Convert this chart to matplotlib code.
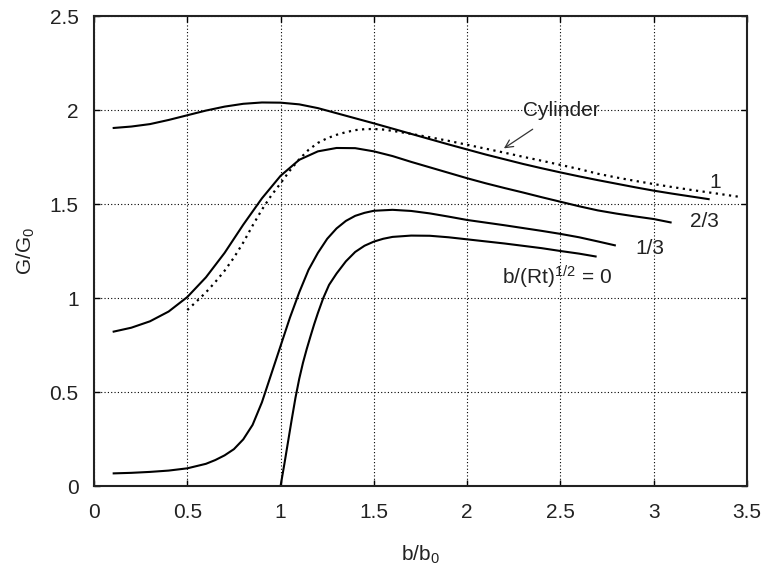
import matplotlib
matplotlib.use("Agg")
import matplotlib.pyplot as plt

plt.rcParams["font.family"] = ["Liberation Sans", "DejaVu Sans"]
plt.rcParams["mathtext.fontset"] = "custom"
plt.rcParams["mathtext.rm"] = "Liberation Sans"
plt.rcParams["mathtext.it"] = "Liberation Sans:italic"
plt.rcParams["mathtext.bf"] = "Liberation Sans:bold"

# G/G0 versus b/b0 for several values of b/(Rt)^(1/2)
x_1 = [0.1, 0.2, 0.3, 0.4, 0.5, 0.6, 0.7, 0.8, 0.9, 1.0, 1.1, 1.2, 1.3, 1.4,
       1.5, 1.6, 1.7, 1.8, 1.9, 2.0, 2.1, 2.2, 2.3, 2.4, 2.5, 2.6, 2.7, 2.8,
       2.9, 3.0, 3.1, 3.2, 3.3]
g_1 = [1.904, 1.912, 1.925, 1.947, 1.972, 1.997, 2.018, 2.033, 2.040, 2.039,
       2.030, 2.010, 1.983, 1.956, 1.929, 1.901, 1.873, 1.845, 1.817, 1.790,
       1.763, 1.738, 1.713, 1.690, 1.668, 1.647, 1.627, 1.608, 1.589, 1.571,
       1.555, 1.540, 1.525]

x_23 = [0.1, 0.2, 0.3, 0.4, 0.5, 0.6, 0.7, 0.8, 0.9, 1.0, 1.1, 1.2, 1.3, 1.4,
        1.5, 1.6, 1.7, 1.8, 1.9, 2.0, 2.1, 2.2, 2.3, 2.4, 2.5, 2.6, 2.7, 2.8,
        2.9, 3.0, 3.096]
g_23 = [0.820, 0.842, 0.876, 0.928, 1.005, 1.110, 1.240, 1.390, 1.530, 1.650,
        1.735, 1.780, 1.798, 1.797, 1.780, 1.755, 1.724, 1.695, 1.666, 1.637,
        1.610, 1.585, 1.561, 1.536, 1.512, 1.488, 1.466, 1.449, 1.434, 1.420,
        1.401]

x_13 = [0.1, 0.2, 0.3, 0.4, 0.5, 0.6, 0.65, 0.7, 0.75, 0.8, 0.85, 0.9, 0.95,
        1.0, 1.05, 1.1, 1.15, 1.2, 1.25, 1.3, 1.35, 1.4, 1.45, 1.5, 1.6, 1.7,
        1.8, 1.9, 2.0, 2.2, 2.4, 2.5, 2.6, 2.7, 2.797]
g_13 = [0.067, 0.070, 0.075, 0.082, 0.094, 0.118, 0.138, 0.163, 0.196, 0.248,
        0.325, 0.445, 0.595, 0.745, 0.895, 1.030, 1.150, 1.240, 1.315, 1.370,
        1.410, 1.437, 1.453, 1.464, 1.469, 1.463, 1.450, 1.433, 1.415, 1.387,
        1.357, 1.341, 1.323, 1.301, 1.279]

x_0 = [1.0, 1.02, 1.04, 1.06, 1.08, 1.1, 1.12, 1.14, 1.16, 1.18, 1.2, 1.229,
       1.26, 1.3, 1.35, 1.4, 1.45, 1.5, 1.55, 1.6, 1.7, 1.8, 1.9, 2.0, 2.2,
       2.4, 2.5, 2.6, 2.694]
g_0 = [0.0, 0.115, 0.235, 0.355, 0.470, 0.570, 0.655, 0.728, 0.795, 0.860,
       0.920, 1.000, 1.070, 1.130, 1.195, 1.245, 1.278, 1.300, 1.315, 1.325,
       1.332, 1.331, 1.323, 1.312, 1.290, 1.265, 1.250, 1.236, 1.220]

x_cyl = [0.5, 0.55, 0.6, 0.65, 0.7, 0.75, 0.8, 0.85, 0.9, 0.95, 1.0, 1.05,
         1.1, 1.15, 1.2, 1.25, 1.3, 1.35, 1.4, 1.45, 1.5, 1.55, 1.6, 1.7, 1.8,
         1.9, 2.0, 2.1, 2.2, 2.3, 2.4, 2.5, 2.6, 2.7, 2.8, 2.9, 3.0, 3.1, 3.2,
         3.3, 3.453]
g_cyl = [0.936, 0.982, 1.030, 1.085, 1.145, 1.215, 1.295, 1.385, 1.470, 1.545,
         1.610, 1.678, 1.738, 1.788, 1.825, 1.850, 1.868, 1.882, 1.893, 1.898,
         1.899, 1.896, 1.889, 1.873, 1.855, 1.836, 1.815, 1.794, 1.773, 1.751,
         1.730, 1.708, 1.686, 1.661, 1.641, 1.623, 1.606, 1.590, 1.575, 1.561,
         1.539]

curve_labels = ["1", "2/3", "1/3", "b/(Rt)$^{\\mathregular{1/2}}$ = 0"]
label_x = [3.328, 3.274, 2.98, 2.481]
label_y = [1.612, 1.408, 1.262, 1.112]

x_ticks = [0, 0.5, 1, 1.5, 2, 2.5, 3, 3.5]
x_ticklabels = ["0", "0.5", "1", "1.5", "2", "2.5", "3", "3.5"]
y_ticks = [0, 0.5, 1, 1.5, 2, 2.5]
y_ticklabels = ["0", "0.5", "1", "1.5", "2", "2.5"]

fig = plt.figure(figsize=(7.67, 5.66), dpi=100)
ax = fig.add_axes([94 / 767, 80 / 566, (747 - 94) / 767, (486 - 16) / 566])

lw = 1.5
for xs, gs in [(x_1, g_1), (x_23, g_23), (x_13, g_13), (x_0, g_0)]:
    ax.plot(xs, gs, color="black", lw=lw, solid_capstyle="butt",
            solid_joinstyle="round")
ax.plot(x_cyl, g_cyl, color="black", lw=1.6, linestyle=(0, (1, 2)))

fs = 15
for txt, lx, ly in zip(curve_labels, label_x, label_y):
    ax.text(lx, ly, txt, fontsize=fs, ha="center", va="center", color="#222222")

ax.annotate("Cylinder", xy=(2.197, 1.796), xytext=(2.506, 2.0),
            fontsize=fs, ha="center", va="center", color="#222222",
            arrowprops=dict(arrowstyle="->", lw=0.9, color="#333333",
                            shrinkA=9, shrinkB=0, mutation_scale=14))

ax.set_xlim(0, 3.5)
ax.set_ylim(0, 2.5)
ax.set_xticks(x_ticks)
ax.set_xticklabels(x_ticklabels)
ax.set_yticks(y_ticks)
ax.set_yticklabels(y_ticklabels)
ax.tick_params(direction="in", length=4, width=1.0, top=True, right=True,
               labelsize=fs, labelcolor="#222222")
ax.tick_params(axis="x", pad=12)
ax.tick_params(axis="y", pad=11)
ax.grid(True, color="black", lw=0.8, linestyle=(0, (1, 2)))
for sp in ax.spines.values():
    sp.set_linewidth(1.5)
    sp.set_color("#222222")

ax.set_xlabel("b/b$_\\mathregular{0}$", fontsize=fs, color="#222222", labelpad=16)
ax.set_ylabel("G/G$_\\mathregular{0}$", fontsize=fs, color="#222222", labelpad=9)

fig.savefig("out.png", dpi=100)
